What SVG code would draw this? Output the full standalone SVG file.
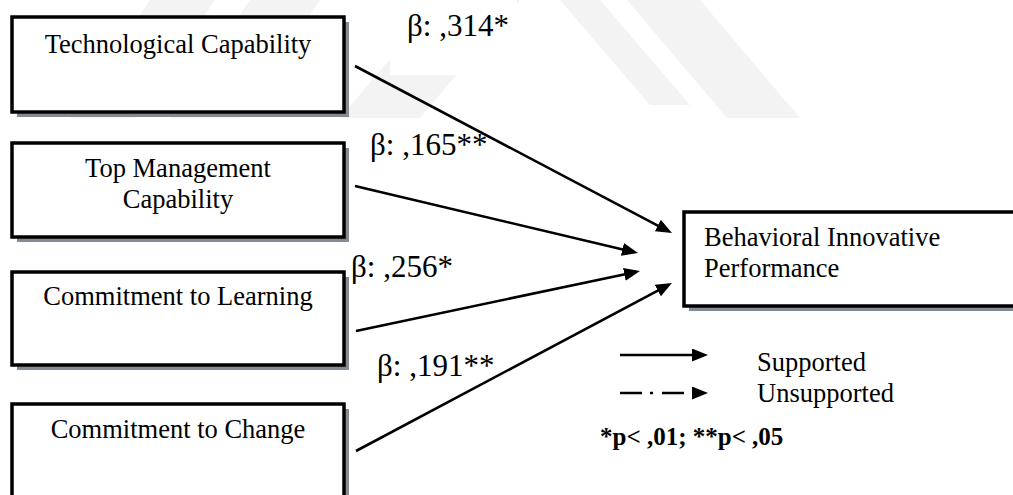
<svg xmlns="http://www.w3.org/2000/svg" width="1013" height="495" viewBox="0 0 1013 495">
  <style>
    .box { fill: #ffffff; stroke: #000000; stroke-width: 3.5; }
    .shadow { fill: #848b92; }
    .label { font-family: "Liberation Serif", "Times New Roman", serif; font-size: 26.5px; fill: #000000; }
    .coef { font-family: "Liberation Serif", "Times New Roman", serif; font-size: 31px; fill: #000000; }
    .note { font-family: "Liberation Serif", "Times New Roman", serif; font-size: 25px; font-weight: bold; fill: #000000; }
    .link { stroke: #000000; stroke-width: 2.6; fill: none; marker-end: url(#head); }
    .wm { fill: #f3f3f3; }
  </style>
  <defs>
    <marker id="head" markerUnits="userSpaceOnUse" markerWidth="17" markerHeight="14" refX="8" refY="6.5" orient="auto">
      <path d="M0,0 L16,6.5 L0,13 Z" fill="#000000"/>
    </marker>
  </defs>

  <rect width="1013" height="495" fill="#ffffff"/>

  <!-- faint background emblem -->
  <g id="emblem">
    <polygon class="wm" points="150,0 215,0 135,118 70,118"/>
    <polygon class="wm" points="250,0 320,0 240,118 170,118"/>
    <polygon class="wm" points="440,0 520,0 420,118 340,118"/>
    <polygon class="wm" points="627,0 700,0 800,118 727,118"/>
    <polygon class="wm" points="560,0 600,0 690,105 650,105"/>
    <rect x="390" y="0" width="127" height="75" fill="#ffffff"/>
  </g>

  <!-- source constructs -->
  <g id="node-tech">
    <rect class="shadow" x="17" y="22" width="332" height="95"/>
    <rect class="box" x="12" y="17" width="332" height="95"/>
    <text class="label" x="178" y="53" text-anchor="middle">Technological Capability</text>
  </g>
  <g id="node-topmgmt">
    <rect class="shadow" x="17" y="148" width="332" height="94"/>
    <rect class="box" x="12" y="143" width="332" height="94"/>
    <text class="label" x="178" y="177" text-anchor="middle">Top Management</text>
    <text class="label" x="178" y="208" text-anchor="middle">Capability</text>
  </g>
  <g id="node-learning">
    <rect class="shadow" x="17" y="277" width="332" height="93"/>
    <rect class="box" x="12" y="272" width="332" height="93"/>
    <text class="label" x="178" y="305" text-anchor="middle">Commitment to Learning</text>
  </g>
  <g id="node-change">
    <rect class="shadow" x="17" y="409" width="332" height="120"/>
    <rect class="box" x="12" y="404" width="332" height="120"/>
    <text class="label" x="178" y="438" text-anchor="middle">Commitment to Change</text>
  </g>

  <!-- outcome construct -->
  <g id="node-performance">
    <rect class="shadow" x="689" y="217" width="360" height="94"/>
    <rect class="box" x="684" y="212" width="360" height="94"/>
    <text class="label" x="704" y="246">Behavioral Innovative</text>
    <text class="label" x="704" y="277">Performance</text>
  </g>

  <!-- paths with coefficients -->
  <g id="connectors">
    <line class="link" x1="355" y1="66" x2="664.9" y2="229.3"/>
    <line class="link" x1="355" y1="186" x2="630.2" y2="251.2"/>
    <line class="link" x1="356" y1="331" x2="632.2" y2="272.7"/>
    <line class="link" x1="356" y1="451" x2="664.9" y2="286.8"/>
    <text class="coef" x="407" y="36">β: ,314*</text>
    <text class="coef" x="370" y="155">β: ,165**</text>
    <text class="coef" x="351" y="277">β: ,256*</text>
    <text class="coef" x="377" y="376">β: ,191**</text>
  </g>

  <!-- legend -->
  <g id="legend">
    <line class="link" x1="620" y1="355" x2="700" y2="355"/>
    <line class="link" x1="620" y1="393" x2="700" y2="393" stroke-dasharray="22 8 3 9 22 30"/>
    <text class="label" x="757" y="371">Supported</text>
    <text class="label" x="757" y="402">Unsupported</text>
    <text class="note" x="600" y="445">*p&lt; ,01; **p&lt; ,05</text>
  </g>
</svg>
